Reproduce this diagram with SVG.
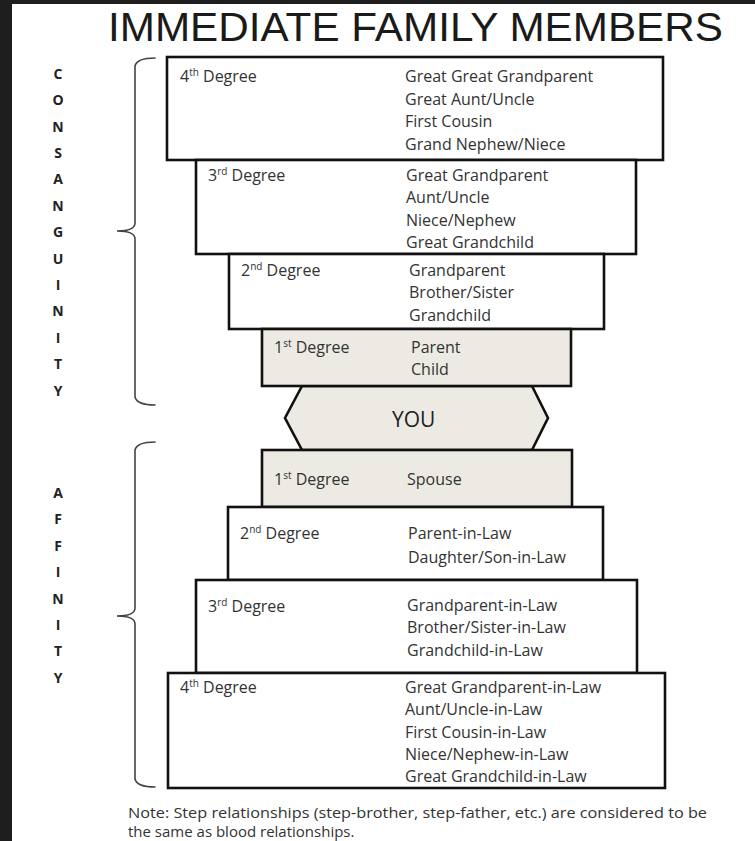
<svg xmlns="http://www.w3.org/2000/svg" width="755" height="841" viewBox="0 0 755 841">
<style>
  .box { stroke: #111; stroke-width: 2.6; fill: #ffffff; }
  .near { fill: #ECEAE2; }
  .t { font-family: "Open Sans", "Liberation Sans", sans-serif; font-size: 16px; fill: #333; }
  .sup { font-size: 10px; }
  .side { font-family: "Open Sans", "Liberation Sans", sans-serif; font-size: 14px; font-weight: bold; fill: #222; text-anchor: middle; }
  .brace { fill: none; stroke: #444; stroke-width: 1.6; stroke-linecap: round; }
</style>
<rect x="0" y="0" width="755" height="841" fill="#ffffff"/>
<rect x="0" y="0" width="755" height="4" fill="#1e1e1e"/>
<rect x="0" y="0" width="12" height="841" fill="#1e1e1e"/>

<text id="title" x="108" y="41" font-family="'Liberation Sans', 'Open Sans', sans-serif" font-size="41" fill="#1a1a1a" textLength="615" lengthAdjust="spacingAndGlyphs">IMMEDIATE FAMILY MEMBERS</text>

<g id="consanguinity-label">
  <text class="side" x="58" y="79">C</text>
  <text class="side" x="58" y="105">O</text>
  <text class="side" x="58" y="132">N</text>
  <text class="side" x="58" y="158">S</text>
  <text class="side" x="58" y="184">A</text>
  <text class="side" x="58" y="211">N</text>
  <text class="side" x="58" y="237">G</text>
  <text class="side" x="58" y="264">U</text>
  <text class="side" x="58" y="290">I</text>
  <text class="side" x="58" y="316">N</text>
  <text class="side" x="58" y="343">I</text>
  <text class="side" x="58" y="369">T</text>
  <text class="side" x="58" y="396">Y</text>
</g>
<g id="affinity-label">
  <text class="side" x="58" y="498">A</text>
  <text class="side" x="58" y="524">F</text>
  <text class="side" x="58" y="551">F</text>
  <text class="side" x="58" y="577">I</text>
  <text class="side" x="58" y="604">N</text>
  <text class="side" x="58" y="630">I</text>
  <text class="side" x="58" y="656">T</text>
  <text class="side" x="58" y="683">Y</text>
</g>

<g id="brackets">
  <path class="brace" d="M155,58 Q137,58 135,66 L135,223 Q135,231 117,231 Q135,231 135,239 L135,397 Q137,405 155,405"/>
  <path class="brace" d="M155,442 Q137,442 135,450 L135,608 Q135,616 117,616 Q135,616 135,624 L135,779 Q137,787 155,787"/>
</g>

<g id="you">
  <polygon class="box near" points="302,386 532,386 548,418 532,450 302,450 285,418"/>
  <text x="392" y="427" font-family="'Open Sans', 'Liberation Sans', sans-serif" font-size="21" fill="#222">YOU</text>
</g>

<g id="c4">
  <rect class="box" x="167" y="57" width="496" height="103"/>
  <text class="t" x="180" y="82">4<tspan class="sup" dy="-6">th</tspan><tspan dy="6"> Degree</tspan></text>
  <text class="t" x="405" y="82">Great Great Grandparent</text>
  <text class="t" x="405" y="105">Great Aunt/Uncle</text>
  <text class="t" x="405" y="127">First Cousin</text>
  <text class="t" x="405" y="150">Grand Nephew/Niece</text>
</g>
<g id="c3">
  <rect class="box" x="196" y="160" width="440" height="94"/>
  <text class="t" x="208" y="181">3<tspan class="sup" dy="-6">rd</tspan><tspan dy="6"> Degree</tspan></text>
  <text class="t" x="406" y="181">Great Grandparent</text>
  <text class="t" x="406" y="203">Aunt/Uncle</text>
  <text class="t" x="406" y="226">Niece/Nephew</text>
  <text class="t" x="406" y="248">Great Grandchild</text>
</g>
<g id="c2">
  <rect class="box" x="229" y="254" width="375" height="75"/>
  <text class="t" x="241" y="276">2<tspan class="sup" dy="-6">nd</tspan><tspan dy="6"> Degree</tspan></text>
  <text class="t" x="409" y="276">Grandparent</text>
  <text class="t" x="409" y="298">Brother/Sister</text>
  <text class="t" x="409" y="321">Grandchild</text>
</g>
<g id="c1">
  <rect class="box near" x="262" y="329" width="309" height="57"/>
  <text class="t" x="274" y="353">1<tspan class="sup" dy="-6">st</tspan><tspan dy="6"> Degree</tspan></text>
  <text class="t" x="411" y="353">Parent</text>
  <text class="t" x="411" y="375">Child</text>
</g>

<g id="a1">
  <rect class="box near" x="262" y="450" width="310" height="57"/>
  <text class="t" x="274" y="485">1<tspan class="sup" dy="-6">st</tspan><tspan dy="6"> Degree</tspan></text>
  <text class="t" x="407" y="485">Spouse</text>
</g>
<g id="a2">
  <rect class="box" x="228" y="507" width="375" height="73"/>
  <text class="t" x="240" y="539">2<tspan class="sup" dy="-6">nd</tspan><tspan dy="6"> Degree</tspan></text>
  <text class="t" x="408" y="539">Parent-in-Law</text>
  <text class="t" x="408" y="563">Daughter/Son-in-Law</text>
</g>
<g id="a3">
  <rect class="box" x="196" y="580" width="441" height="93"/>
  <text class="t" x="208" y="612">3<tspan class="sup" dy="-6">rd</tspan><tspan dy="6"> Degree</tspan></text>
  <text class="t" x="407" y="611">Grandparent-in-Law</text>
  <text class="t" x="407" y="633">Brother/Sister-in-Law</text>
  <text class="t" x="407" y="656">Grandchild-in-Law</text>
</g>
<g id="a4">
  <rect class="box" x="168" y="673" width="497" height="115"/>
  <text class="t" x="180" y="693">4<tspan class="sup" dy="-6">th</tspan><tspan dy="6"> Degree</tspan></text>
  <text class="t" x="405" y="693">Great Grandparent-in-Law</text>
  <text class="t" x="405" y="715">Aunt/Uncle-in-Law</text>
  <text class="t" x="405" y="738">First Cousin-in-Law</text>
  <text class="t" x="405" y="760">Niece/Nephew-in-Law</text>
  <text class="t" x="405" y="782">Great Grandchild-in-Law</text>
</g>

<g id="note">
  <text class="t" x="128" y="818" textLength="579" lengthAdjust="spacingAndGlyphs" style="font-size:15px">Note: Step relationships (step-brother, step-father, etc.) are considered to be</text>
  <text class="t" x="128" y="837" style="font-size:15px">the same as blood relationships.</text>
</g>
</svg>
